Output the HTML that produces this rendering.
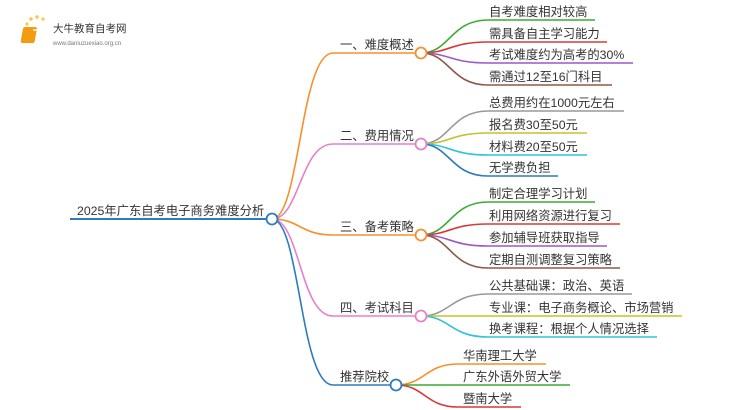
<!DOCTYPE html>
<html><head><meta charset="utf-8"><style>
html,body{margin:0;padding:0;background:#fff;}
svg{display:block;}
text{font-family:"Liberation Sans","Noto Sans CJK SC",sans-serif;font-size:12.3px;fill:#333;}
</style></head><body>
<svg width="750" height="410" viewBox="0 0 750 410" xmlns="http://www.w3.org/2000/svg">
<!-- logo -->
<g>
<circle cx="27" cy="24" r="1.6" fill="#f9c74f"/><circle cx="31" cy="19" r="1.8" fill="#f9c74f"/><circle cx="37" cy="17" r="1.8" fill="#f9c74f"/><circle cx="43" cy="19" r="1.6" fill="#f9c74f"/><circle cx="24" cy="31" r="1.4" fill="#f9c74f"/>
<rect x="28" y="27" width="14" height="16" rx="2" fill="#f39c12" transform="skewX(-10)"/>
<rect x="33" y="29" width="9" height="2" fill="#fff" opacity=".7"/>
<text x="53" y="32" style="font-size:10.5px;fill:#333">大牛教育自考网</text>
<text x="53" y="45" style="font-size:6px;fill:#777">www.daniuzuexiao.org.cn</text>
</g>
<!-- root -->
<path d="M70 219 H267" stroke="#2b7bc0" stroke-width="2" fill="none"/>
<text x="77" y="215">2025年广东自考电子商务难度分析</text>
<!-- root to branches -->
<g fill="none" stroke-width="1.6">
<path d="M272 219 C300 219,300 53,333 53 H416" stroke="#f7902b"/>
<path d="M272 219 C300 219,300 144,333 144 H416" stroke="#e680c9"/>
<path d="M272 219 C300 219,300 235,333 235 H416" stroke="#f7902b"/>
<path d="M272 219 C300 219,300 316,333 316 H416" stroke="#e680c9"/>
<path d="M272 219 C300 219,300 385,333 385 H391" stroke="#2b7bc0"/>
</g>
<circle cx="272" cy="219" r="5.5" fill="#fff" stroke="#2b7bc0" stroke-width="1.8"/>
<text x="340" y="49">一、难度概述</text>
<text x="340" y="140">二、费用情况</text>
<text x="340" y="231">三、备考策略</text>
<text x="340" y="312">四、考试科目</text>
<text x="340" y="381">推荐院校</text>
<!-- leaves -->
<g fill="none" stroke-width="1.6">
<path d="M421 53 C450 53,450 20,488 20 H595" stroke="#3aaa35"/>
<path d="M421 53 C450 53,450 42,488 42 H607" stroke="#d9383a"/>
<path d="M421 53 C450 53,450 63,488 63 H633" stroke="#9b59c6"/>
<path d="M421 53 C450 53,450 85,488 85 H612" stroke="#8b5a4a"/>
<path d="M421 144 C450 144,450 111,488 111 H624" stroke="#999"/>
<path d="M421 144 C450 144,450 133,488 133 H587" stroke="#c5c22f"/>
<path d="M421 144 C450 144,450 155,488 155 H587" stroke="#2fc4d6"/>
<path d="M421 144 C450 144,450 176,488 176 H558" stroke="#2b7bc0"/>
<path d="M421 235 C450 235,450 202,488 202 H595" stroke="#3aaa35"/>
<path d="M421 235 C450 235,450 224,488 224 H620" stroke="#d9383a"/>
<path d="M421 235 C450 235,450 246,488 246 H607" stroke="#9b59c6"/>
<path d="M421 235 C450 235,450 268,488 268 H620" stroke="#8b5a4a"/>
<path d="M421 316 C450 316,450 294,488 294 H632" stroke="#999"/>
<path d="M421 316 H682" stroke="#c5c22f"/>
<path d="M421 316 C450 316,450 337,488 337 H657" stroke="#2fc4d6"/>
<path d="M396 385 C425 385,425 364,458 364 H546" stroke="#f7902b"/>
<path d="M396 385 H570" stroke="#3aaa35"/>
<path d="M396 385 C425 385,425 407,458 407 H521" stroke="#d9383a"/>
</g>
<circle cx="421" cy="53" r="5.5" fill="#fff" stroke="#f7902b" stroke-width="1.8"/>
<circle cx="421" cy="144" r="5.5" fill="#fff" stroke="#e680c9" stroke-width="1.8"/>
<circle cx="421" cy="235" r="5.5" fill="#fff" stroke="#f7902b" stroke-width="1.8"/>
<circle cx="421" cy="316" r="5.5" fill="#fff" stroke="#e680c9" stroke-width="1.8"/>
<circle cx="396" cy="385" r="5.5" fill="#fff" stroke="#2b7bc0" stroke-width="1.8"/>
<text x="489" y="16">自考难度相对较高</text>
<text x="489" y="38">需具备自主学习能力</text>
<text x="489" y="59">考试难度约为高考的30%</text>
<text x="489" y="81">需通过12至16门科目</text>
<text x="489" y="107">总费用约在1000元左右</text>
<text x="489" y="129">报名费30至50元</text>
<text x="489" y="151">材料费20至50元</text>
<text x="489" y="172">无学费负担</text>
<text x="489" y="198">制定合理学习计划</text>
<text x="489" y="220">利用网络资源进行复习</text>
<text x="489" y="242">参加辅导班获取指导</text>
<text x="489" y="264">定期自测调整复习策略</text>
<text x="489" y="290">公共基础课：政治、英语</text>
<text x="489" y="312">专业课：电子商务概论、市场营销</text>
<text x="489" y="333">换考课程：根据个人情况选择</text>
<text x="463" y="360">华南理工大学</text>
<text x="463" y="381">广东外语外贸大学</text>
<text x="463" y="403">暨南大学</text>
</svg>
</body></html>
